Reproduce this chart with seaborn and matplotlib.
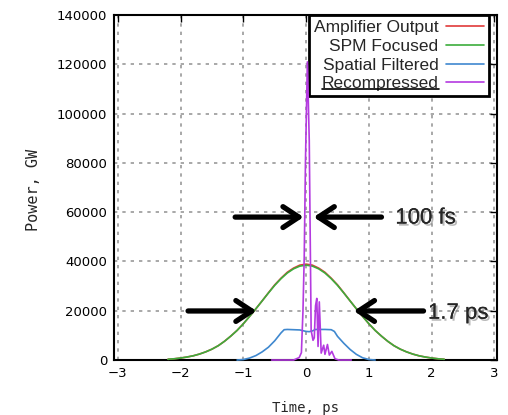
import matplotlib
matplotlib.use("Agg")
import matplotlib.pyplot as plt
import matplotlib.patheffects as pe
from matplotlib.lines import Line2D
import seaborn as sns

# Time grid of the long pulses (ps)
pulse_time = [-2.2, -2.1, -2.0, -1.9, -1.8, -1.7, -1.6, -1.5, -1.4, -1.3, -1.2, -1.1,
              -1.0, -0.9, -0.8, -0.7, -0.6, -0.5, -0.4, -0.3, -0.2, -0.1, 0.0,
              0.1, 0.2, 0.3, 0.4, 0.5, 0.6, 0.7, 0.8, 0.9, 1.0, 1.1, 1.2, 1.3,
              1.4, 1.5, 1.6, 1.7, 1.8, 1.9, 2.0, 2.1, 2.2]

# Amplifier output and SPM focused (GW) - nearly on top of each other
amp_power = [300, 500, 800, 1200, 1700, 2400, 3300, 4400, 5800, 7600, 9700, 12000,
             14700, 17700, 20800, 24000, 27300, 30500, 33200, 35600, 37300, 38500, 38900,
             38500, 37300, 35600, 33200, 30500, 27300, 24000, 20800, 17700, 14700, 12000,
             9700, 7600, 5800, 4400, 3300, 2400, 1700, 1200, 800, 500, 300]
spm_power = [300, 500, 800, 1200, 1700, 2400, 3300, 4400, 5800, 7600, 9700, 12000,
             14700, 17700, 20800, 24000, 27200, 30300, 33000, 35300, 37000, 38100, 38500,
             38100, 37000, 35300, 33000, 30300, 27200, 24000, 20800, 17700, 14700, 12000,
             9700, 7600, 5800, 4400, 3300, 2400, 1700, 1200, 800, 500, 300]

# Spatial filtered
filt_time = [-1.1, -1.0, -0.9, -0.8, -0.7, -0.6, -0.5, -0.4, -0.35, -0.3, -0.2, -0.1,
             0.0, 0.05, 0.1, 0.15, 0.2, 0.3, 0.4, 0.45, 0.5, 0.6, 0.7, 0.8, 0.9, 1.0, 1.1]
filt_power = [0, 200, 800, 1800, 3300, 5200, 7800, 11000, 12300, 12400, 12300, 12200,
              11600, 11500, 11800, 12400, 12400, 12400, 12300, 11600, 9600, 6800, 4300,
              2300, 900, 200, 0]

# Recompressed
rec_time = [-0.55, -0.2, -0.11, -0.075, -0.05, -0.03, -0.01, 0.02, 0.05, 0.08, 0.11,
            0.13, 0.15, 0.17, 0.19, 0.21, 0.24, 0.28, 0.30, 0.34, 0.37, 0.41, 0.46,
            0.52, 0.72]
rec_power = [0, 0, 1000, 3000, 20000, 42000, 81000, 121000, 89000, 12000, 8000,
             9000, 22000, 25000, 5500, 23600, 2800, 6000, 2300, 6300, 2000, 3500, 500,
             0, 0]

series_labels = ["Amplifier Output", "SPM Focused", "Spatial Filtered", "Recompressed"]
series_colors = ["#e03a3a", "#3cad3c", "#3f88cf", "#b43ae0"]

x_ticks = [-3, -2, -1, 0, 1, 2, 3]
y_ticks = [0, 20000, 40000, 60000, 80000, 100000, 120000, 140000]

sns.set_style("white")
plt.rcParams["font.family"] = ["DejaVu Sans"]

fig = plt.figure(figsize=(5.08, 4.15), dpi=100)
ax = fig.add_axes([0.2244, 0.1325, 0.7539, 0.8313])

sns.lineplot(x=pulse_time, y=amp_power, ax=ax, color=series_colors[0], lw=1.2,
             label=series_labels[0], zorder=3, clip_on=False)
sns.lineplot(x=pulse_time, y=spm_power, ax=ax, color=series_colors[1], lw=1.2,
             label=series_labels[1], zorder=3.1, clip_on=False)
sns.lineplot(x=filt_time, y=filt_power, ax=ax, color=series_colors[2], lw=1.2,
             label=series_labels[2], zorder=3.2, clip_on=False)
sns.lineplot(x=rec_time, y=rec_power, ax=ax, color=series_colors[3], lw=1.2,
             label=series_labels[3], zorder=4, clip_on=False, sort=False)

ax.set_xlim(-3.06, 3.04)
ax.set_ylim(0, 140000)
ax.set_xticks(x_ticks)
ax.set_xticklabels(["\u22123", "\u22122", "\u22121", "0", "1", "2", "3"])
ax.set_yticks(y_ticks)
ax.set_yticklabels([str(v) for v in y_ticks])
ax.grid(True, color="#9a9a9a", linestyle=(0, (2.0, 3.0)), lw=1.2)
ax.tick_params(direction="in", length=5, width=1, top=True, right=True,
               labelsize=9.5, pad=5, colors="black")
for s in ax.spines.values():
    s.set_linewidth(1.5)
    s.set_color("black")
ax.set_xlabel("")
ax.set_ylabel("")

fig.text(33 / 508, 0.542, "Power, GW", rotation=90, ha="center", va="center",
         family="DejaVu Sans Mono", fontsize=11)
fig.text(305 / 508, (415 - 401) / 415, "Time, ps", ha="center", va="top",
         family="DejaVu Sans Mono", fontsize=10)

# legend, gnuplot style (text then sample)
handles, labels = ax.get_legend_handles_labels()
leg = ax.legend(handles, labels, loc="upper right", bbox_to_anchor=(0.979, 1.0),
                borderaxespad=0, markerfirst=False, frameon=True, fancybox=False,
                handlelength=2.2, handletextpad=0.4, labelspacing=0.2,
                borderpad=0.3, prop={"family": "Liberation Sans", "size": 12.5})
leg.get_frame().set_edgecolor("black")
leg.get_frame().set_linewidth(2)
leg.get_frame().set_facecolor("white")
leg.get_frame().set_alpha(1)
leg.set_zorder(3.5)

# width arrows
arrow_kw = dict(arrowstyle="->, head_length=0.38, head_width=0.25", lw=3.8,
                color="black", mutation_scale=30, shrinkA=0, shrinkB=0)
ax.annotate("", xy=(-0.04, 58000), xytext=(-1.13, 58000), arrowprops=arrow_kw, zorder=5)
ax.annotate("", xy=(0.12, 58000), xytext=(1.2, 58000), arrowprops=arrow_kw, zorder=5)
ax.annotate("", xy=(-0.79, 19900), xytext=(-1.88, 19900), arrowprops=arrow_kw, zorder=5)
ax.annotate("", xy=(0.76, 19900), xytext=(1.87, 19900), arrowprops=arrow_kw, zorder=5)

shadow = [pe.withSimplePatchShadow(offset=(1.5, -1.5), shadow_rgbFace="0.45", alpha=0.5),
          pe.Normal()]
ax.text(1.42, 57600, "100 fs", ha="left", va="center", family="Liberation Sans",
        fontsize=16, path_effects=shadow, zorder=6)
ax.text(1.94, 19000, "1.7 ps", ha="left", va="center", family="Liberation Sans",
        fontsize=16, path_effects=shadow, zorder=6, clip_on=False)

# underline under "Recompressed" in the key
fig.canvas.draw()
bb = leg.get_texts()[3].get_window_extent(fig.canvas.get_renderer())
W, H = fig.bbox.width, fig.bbox.height
uy = (bb.y0 + 2) / H
fig.add_artist(Line2D([bb.x0 / W, bb.x1 / W], [uy, uy], color="black", lw=1.2,
                      transform=fig.transFigure, zorder=10))

fig.savefig("out.png", dpi=100)
